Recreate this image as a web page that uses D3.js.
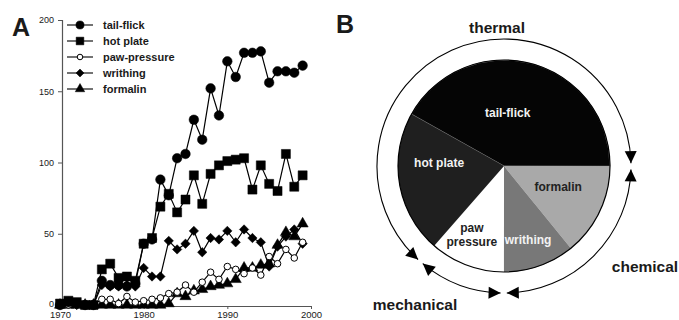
<!DOCTYPE html>
<html>
<head>
<meta charset="utf-8">
<script src="https://cdn.jsdelivr.net/npm/d3@7"></script>
<style>
  body { margin: 0; background: #fff; }
  svg { display: block; font-family: "Liberation Sans", Arial, sans-serif; font-weight: bold; }
</style>
</head>
<body>
<svg id="chart" width="679" height="320"></svg>
<script>
// panel A: papers per year
const years = d3.range(1970, 2000);
const tailFlick = [0, 2, 1, 0, 0, 17, 14, 14, 13, 15, 43, 46, 88, 77, 103, 106, 130, 116, 152, 133, 171, 160, 177, 177, 178, 156, 164, 164, 163, 168];
const hotPlate = [1, 3, 2, 0, 0, 25, 29, 19, 20, 17, 43, 47, 69, 78, 65, 74, 91, 71, 92, 98, 101, 102, 103, 81, 98, 85, 80, 106, 83, 91];
const pawPressure = [0, 0, 0, 0, 0, 4, 4, 1, 6, 2, 3, 4, 5, 8, 9, 14, 9, 16, 23, 18, 27, 25, 22, 26, 21, 34, 29, 39, 33, 44];
const writhing = [0, 1, 0, 0, 0, 14, 13, 13, 14, 13, 26, 20, 20, 45, 39, 43, 52, 37, 47, 46, 52, 44, 53, 47, 44, 27, 41, 48, 53, 43];
const formalin = [0, 0, 0, 0, 0, 0, 0, 0, 0, 0, 0, 0, 0, 1, 8, 6, 10, 11, 13, 14, 15, 18, 26, 26, 28, 29, 42, 51, 48, 57];
const seriesNames = ["tail-flick", "hot plate", "paw-pressure", "writhing", "formalin"];
const yTicks = [0, 50, 100, 150, 200];
const xTicks = [1970, 1980, 1990, 2000];

// panel B: share of tests (clockwise from the tail-flick edge)
const pieCategories = ["tail-flick", "formalin", "writhing", "paw pressure", "hot plate"];
const pieValues = [41.9, 14.1, 10.9, 11.4, 21.7];
const stimulusGroups = ["thermal", "chemical", "mechanical"];
const groupMembers = [["hot plate", "tail-flick"], ["formalin", "writhing"], ["paw pressure"]];

const svg = d3.select("#chart");
const ink = "#1a1a1a";

// ---------- panel A ----------
const x = d3.scaleLinear().domain([1970, 2000]).range([60, 311]);
const y = d3.scaleLinear().domain([0, 200]).range([305, 20]);

svg.append("text").attr("x", 12).attr("y", 36).attr("font-size", 25).attr("fill", ink).text("A");

const yAxis = svg.append("g").attr("transform", "translate(62,0)")
  .call(d3.axisLeft(y).tickValues(yTicks).tickSize(4).tickPadding(4));
yAxis.select(".domain").attr("stroke", "#555").attr("stroke-width", 1.2);
yAxis.selectAll("line").attr("stroke", "#555");
yAxis.selectAll("text").attr("font-size", 9).attr("fill", ink).attr("font-weight", "normal")
  .attr("dy", (d) => (d === 0 ? "0.2em" : "0.32em"));

const xAxis = svg.append("g").attr("transform", "translate(0,306)")
  .call(d3.axisBottom(x).tickValues(xTicks).tickFormat(d3.format("d")).tickSize(3).tickPadding(2).tickSizeOuter(0));
xAxis.select(".domain").attr("stroke", "#555").attr("stroke-width", 1.2);
xAxis.selectAll("line").attr("stroke", "#555");
xAxis.selectAll("text").attr("font-size", 9.5).attr("fill", ink).attr("font-weight", "normal");

const markers = {
  "tail-flick": { type: d3.symbolCircle, size: 72, fill: "#000", rot: 0 },
  "hot plate": { type: d3.symbolSquare, size: 82, fill: "#000", rot: 0 },
  "paw-pressure": { type: d3.symbolCircle, size: 34, fill: "#fff", rot: 0 },
  "writhing": { type: d3.symbolSquare, size: 44, fill: "#000", rot: 45 },
  "formalin": { type: d3.symbolTriangle, size: 54, fill: "#000", rot: 0 }
};
const seriesData = [tailFlick, hotPlate, pawPressure, writhing, formalin];
const line = d3.line().x((d) => x(d.year)).y((d) => y(d.value));

// draw back to front so tail-flick sits on top
seriesNames.slice().reverse().forEach((name) => {
  const vals = seriesData[seriesNames.indexOf(name)];
  const pts = years.map((yr, i) => ({ year: yr, value: vals[i] }));
  const m = markers[name];
  const g = svg.append("g");
  g.append("path").attr("d", line(pts)).attr("fill", "none").attr("stroke", "#000").attr("stroke-width", 1.2);
  g.selectAll("path.mk").data(pts).enter().append("path")
    .attr("class", "mk")
    .attr("d", d3.symbol().type(m.type).size(m.size))
    .attr("transform", (d) => `translate(${x(d.year)},${y(d.value)}) rotate(${m.rot})`)
    .attr("fill", m.fill)
    .attr("stroke", "#000")
    .attr("stroke-width", m.fill === "#fff" ? 1 : 0.5);
});

// legend
const legend = svg.append("g");
const legendY = d3.scalePoint().domain(seriesNames).range([25, 89]);
seriesNames.forEach((name) => {
  const m = markers[name];
  const ly = legendY(name);
  legend.append("line").attr("x1", 67).attr("x2", 93).attr("y1", ly).attr("y2", ly)
    .attr("stroke", "#000").attr("stroke-width", 1.1);
  legend.append("path")
    .attr("d", d3.symbol().type(m.type).size(m.size * 0.72))
    .attr("transform", `translate(80,${ly}) rotate(${m.rot})`)
    .attr("fill", m.fill).attr("stroke", "#000").attr("stroke-width", m.fill === "#fff" ? 1 : 0.5);
  legend.append("text").attr("x", 103).attr("y", ly + 4).attr("font-size", 11).attr("fill", ink).text(name);
});

// ---------- panel B ----------
svg.append("text").attr("x", 336).attr("y", 33).attr("font-size", 25).attr("fill", ink).text("B");

const cx = 504, cy = 166, R = 106, ringR = 127;
const startDeg = -60.7;
const pie = d3.pie().sort(null).value((d) => d.value)
  .startAngle(startDeg * Math.PI / 180).endAngle(startDeg * Math.PI / 180 + 2 * Math.PI);
const slices = pie(pieCategories.map((c, i) => ({ name: c, value: pieValues[i] })));
const sliceFill = { "tail-flick": "#050505", "formalin": "#a9a9a9", "writhing": "#787878", "paw pressure": "#ffffff", "hot plate": "#1f1f1f" };
const sliceText = { "tail-flick": "#f2f2f2", "formalin": "#222", "writhing": "#f2f2f2", "paw pressure": "#222", "hot plate": "#f2f2f2" };
// label placement in polar form: [angle from 12 o'clock in degrees, radius]
const labelPolar = { "tail-flick": [4, 53], "formalin": [111, 58], "writhing": [162, 78], "paw pressure": [205, 76], "hot plate": [273, 65] };

const pg = svg.append("g").attr("transform", `translate(${cx},${cy})`);
const arc = d3.arc().innerRadius(0).outerRadius(R);
pg.selectAll("path.slice").data(slices).enter().append("path")
  .attr("class", "slice")
  .attr("d", arc)
  .attr("fill", (d) => sliceFill[d.data.name])
  .attr("stroke", (d) => (d.data.name === "tail-flick" ? "#888" : "none"))
  .attr("stroke-width", 0.8);
pg.append("circle").attr("r", R).attr("fill", "none").attr("stroke", "#000").attr("stroke-width", 1.2);

slices.forEach((d) => {
  const [ang, r] = labelPolar[d.data.name];
  const lx = r * Math.sin(ang * Math.PI / 180);
  const ly = -r * Math.cos(ang * Math.PI / 180);
  const lines = d.data.name === "paw pressure" ? ["paw", "pressure"] : [d.data.name];
  const t = pg.append("text").attr("text-anchor", "middle").attr("font-size", 12)
    .attr("fill", sliceText[d.data.name]);
  lines.forEach((s, i) => {
    t.append("tspan").attr("x", lx).attr("y", ly + 4 + (i - (lines.length - 1) / 2) * 14).text(s);
  });
});

// outer ring: one double-headed arc per stimulus group
const rg = svg.append("g").attr("transform", `translate(${cx},${cy})`);
const gapDeg = 1.4;
const arrow = "M0,0L-12,-6L-12,6Z";
groupMembers.forEach((members) => {
  const parts = slices.filter((s) => members.includes(s.data.name));
  let a0 = d3.min(parts, (s) => s.startAngle);
  let a1 = d3.max(parts, (s) => s.endAngle);
  // slices may straddle the start angle; join them into one span
  if (a1 - a0 > d3.sum(parts, (s) => s.endAngle - s.startAngle) + 1e-6) {
    a0 = parts[1].startAngle;
    a1 = parts[0].endAngle + 2 * Math.PI;
  }
  const gap = gapDeg * Math.PI / 180;
  a0 += gap; a1 -= gap;
  const p = d3.path();
  p.arc(0, 0, ringR, a0 - Math.PI / 2, a1 - Math.PI / 2);
  rg.append("path").attr("d", p.toString()).attr("fill", "none").attr("stroke", "#000").attr("stroke-width", 1.1);
  [[a1, 0], [a0, 180]].forEach(([a, flip]) => {
    const px = ringR * Math.sin(a), py = -ringR * Math.cos(a);
    rg.append("path").attr("d", arrow)
      .attr("transform", `translate(${px},${py}) rotate(${a * 180 / Math.PI + flip})`)
      .attr("fill", "#000");
  });
});

const groupLabelPos = { thermal: [497, 33], chemical: [645, 272], mechanical: [415, 310] };
stimulusGroups.forEach((g) => {
  const [lx, ly] = groupLabelPos[g];
  svg.append("text").attr("x", lx).attr("y", ly).attr("text-anchor", "middle")
    .attr("font-size", 15.5).attr("fill", ink).text(g);
});
</script>
</body>
</html>
